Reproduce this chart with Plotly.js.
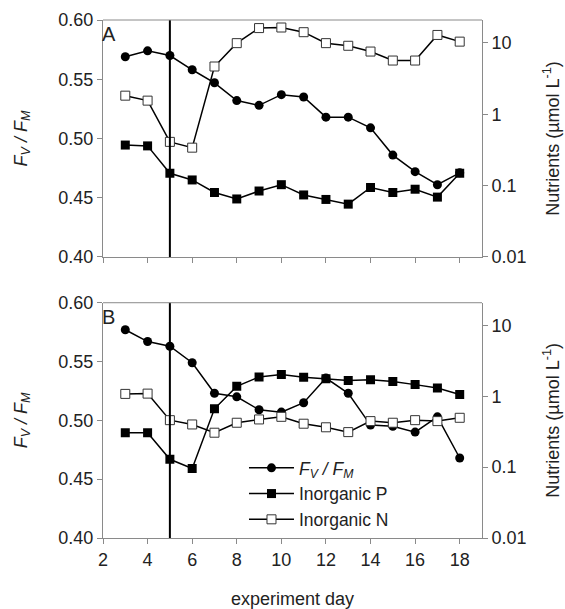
<!DOCTYPE html>
<html>
<head>
<meta charset="utf-8">
<script src="https://cdn.plot.ly/plotly-3.0.1.min.js"></script>
<style>html,body{margin:0;padding:0;background:#fff;}#chart{width:565px;height:609px;}</style>
</head>
<body>
<div id="chart"></div>
<script>
// ---- data ----
const days = [3,4,5,6,7,8,9,10,11,12,13,14,15,16,17,18];
const treatmentDay = 5;

// Panel A
const fvfmA = [0.569,0.574,0.570,0.558,0.547,0.532,0.528,0.537,0.535,0.518,0.518,0.509,0.486,0.472,0.461,0.471];
const inorgPA = [0.37,0.36,0.149,0.12,0.080,0.065,0.084,0.103,0.074,0.064,0.055,0.094,0.080,0.089,0.069,0.149];
const inorgNA = [1.82,1.55,0.41,0.34,4.66,9.9,16.1,16.4,14.1,9.9,9.1,7.55,5.65,5.65,12.9,10.4];

// Panel B
const fvfmB = [0.577,0.567,0.563,0.549,0.523,0.520,0.509,0.507,0.515,0.536,0.523,0.496,0.495,0.490,0.503,0.468];
const inorgPB = [0.306,0.306,0.129,0.096,0.665,1.38,1.87,2.02,1.85,1.77,1.67,1.71,1.62,1.46,1.31,1.06];
const inorgNB = [1.08,1.09,0.46,0.40,0.306,0.423,0.471,0.513,0.41,0.365,0.312,0.446,0.423,0.46,0.446,0.497];

const xTicks = [2,4,6,8,10,12,14,16,18];
const leftTicks = [0.40,0.45,0.50,0.55,0.60];
const rightTickVals = [0.01,0.1,1,10];
const rightTickText = ['0.01','0.1','1','10'];
const seriesNames = ['<i>F</i><sub><i>V</i></sub><i> / F</i><sub><i>M</i></sub>','Inorganic P','Inorganic N'];

// ---- styles ----
const FONT = 'Liberation Sans, Arial, sans-serif';
const lineStyle = {color:'#000', width:1.5};
const circ = {symbol:'circle', size:9, color:'#000'};
const fsq = {symbol:'square', size:9, color:'#000'};
const osq = {symbol:'square', size:9, color:'#fff', line:{color:'#333', width:1}};

function tr(y, xa, ya, name, marker, show){
  return {x:days, y:y, xaxis:xa, yaxis:ya, name:name, mode:'lines+markers',
          line:lineStyle, marker:marker, showlegend:show};
}

const plotData = [
  tr(inorgNA,'x','y2',seriesNames[2],osq,false),
  tr(inorgPA,'x','y2',seriesNames[1],fsq,false),
  tr(fvfmA,'x','y',seriesNames[0],circ,false),
  tr(fvfmB,'x2','y3',seriesNames[0],circ,true),
  tr(inorgPB,'x2','y4',seriesNames[1],fsq,true),
  tr(inorgNB,'x2','y4',seriesNames[2],osq,true),
];

const axisCol = '#8a8a8a';
const tickFont = {family:FONT, size:18, color:'#222'};
const titleFont = {family:FONT, size:18, color:'#222'};

function xAxis(anchor, showLabels, titleObj){
  return {range:[2,19], tickvals:xTicks, showticklabels:showLabels, ticks:'outside', ticklen:5,
    tickcolor:axisCol, showline:true, linecolor:axisCol, linewidth:1, mirror:false,
    showgrid:false, zeroline:false, anchor:anchor, domain:[0,1], tickfont:tickFont,
    title:titleObj};
}
function leftAxis(domain, anchor){
  return {domain:domain, range:[0.40,0.60], tickvals:leftTicks, tickformat:'.2f', ticks:'outside',
    ticklen:5, tickcolor:axisCol, showline:true, linecolor:axisCol, linewidth:1, mirror:false,
    showgrid:false, zeroline:false, anchor:anchor, tickfont:tickFont,
    title:{text:seriesNames[0], font:titleFont, standoff:26}};
}
function rightAxis(overlay, anchor){
  return {type:'log', range:[-2,1.32], overlaying:overlay, side:'right', anchor:anchor,
    tickvals:rightTickVals, ticktext:rightTickText, ticks:'outside', ticklen:5, tickcolor:axisCol,
    showline:true, linecolor:axisCol, linewidth:1, showgrid:false, zeroline:false, tickfont:tickFont,
    title:{text:'Nutrients (µmol L<sup>-1</sup>)', font:titleFont, standoff:20}};
}

const layout = {
  width:565, height:609,
  margin:{l:103, r:83, t:20, b:71},
  paper_bgcolor:'#fff', plot_bgcolor:'#fff',
  font:{family:FONT, color:'#222'},
  showlegend:true,
  xaxis: xAxis('y', false, {text:''}),
  xaxis2: xAxis('y3', true, {text:'experiment day', font:titleFont, standoff:24}),
  yaxis: leftAxis([0.5425,1],'x'),
  yaxis2: rightAxis('y','x'),
  yaxis3: leftAxis([0,0.4542],'x2'),
  yaxis4: rightAxis('y3','x2'),
  legend:{x:0.372, y:0.17, xanchor:'left', yanchor:'top', bgcolor:'rgba(0,0,0,0)', traceorder:'normal',
    font:{family:FONT, size:17.5, color:'#222'}, itemwidth:45},
  shapes:[
    {type:'line', xref:'x', yref:'y domain', x0:treatmentDay, x1:treatmentDay, y0:0, y1:1, line:{color:'#000', width:2}},
    {type:'line', xref:'x2', yref:'y3 domain', x0:treatmentDay, x1:treatmentDay, y0:0, y1:1, line:{color:'#000', width:2}},
    {type:'line', xref:'x domain', yref:'y domain', x0:0, x1:1, y0:1, y1:1, line:{color:axisCol, width:1}},
    {type:'line', xref:'x2 domain', yref:'y3 domain', x0:0, x1:1, y0:1, y1:1, line:{color:axisCol, width:1}}
  ],
  annotations:[
    {text:'A', xref:'x domain', yref:'y domain', x:-0.008, y:0.995, xanchor:'left', yanchor:'top', showarrow:false, font:{family:FONT, size:20, color:'#222'}},
    {text:'B', xref:'x2 domain', yref:'y3 domain', x:-0.008, y:0.995, xanchor:'left', yanchor:'top', showarrow:false, font:{family:FONT, size:20, color:'#222'}}
  ]
};

Plotly.newPlot('chart', plotData, layout, {displayModeBar:false, staticPlot:true});
</script>
</body>
</html>
